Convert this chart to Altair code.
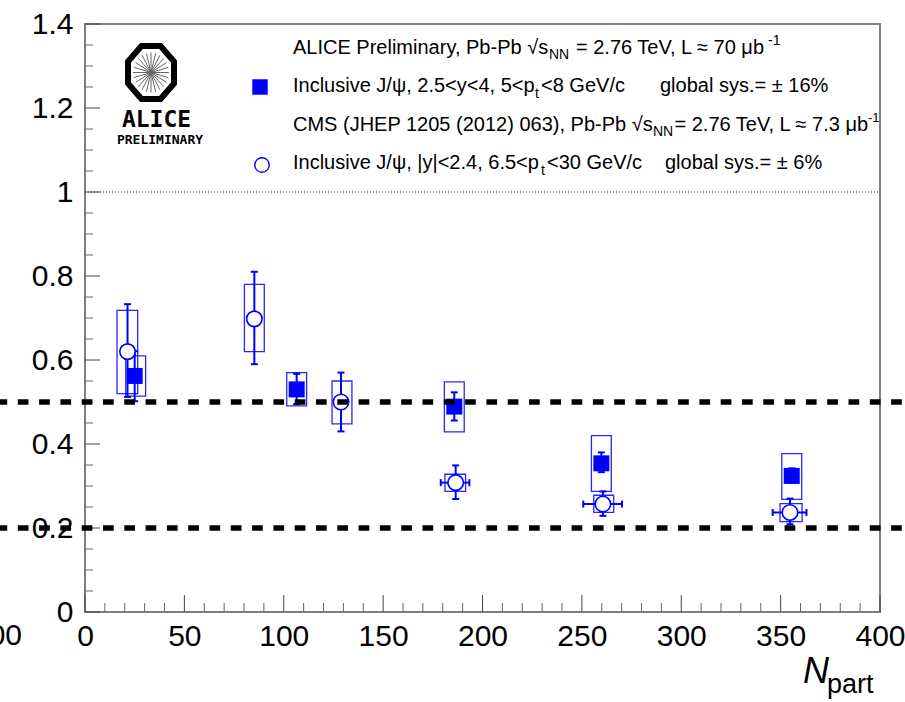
import math
import altair as alt
import pandas as pd

FONT = "Liberation Sans"
BLUE = "#0000ff"
L, T = 85, 24          # plot origin on the page
W, H = 795, 588        # plot area

# ---------------- data ----------------
alice_npart = [25.0, 106.5, 185.8, 259.8, 355.6]
alice_val = [0.562, 0.530, 0.489, 0.354, 0.324]
alice_stat_lo = [0.502, 0.495, 0.456, 0.333, 0.308]
alice_stat_hi = [0.621, 0.567, 0.523, 0.380, 0.342]
alice_sys_lo = [0.514, 0.491, 0.429, 0.287, 0.268]
alice_sys_hi = [0.610, 0.570, 0.548, 0.420, 0.377]
alice_box_lo = [20.5, 101.5, 180.8, 254.8, 350.6]
alice_box_hi = [30.5, 111.5, 190.8, 264.8, 360.6]

cms_npart = [21.4, 85.2, 128.8, 186.5, 260.6, 354.7]
cms_val = [0.620, 0.698, 0.500, 0.308, 0.257, 0.237]
cms_stat_lo = [0.512, 0.590, 0.430, 0.269, 0.229, 0.209]
cms_stat_hi = [0.733, 0.810, 0.570, 0.349, 0.287, 0.270]
cms_sys_lo = [0.520, 0.620, 0.448, 0.287, 0.237, 0.215]
cms_sys_hi = [0.718, 0.780, 0.550, 0.328, 0.278, 0.258]
cms_box_lo = [16.1, 80.2, 124.3, 181.1, 256.0, 349.7]
cms_box_hi = [26.5, 90.2, 134.3, 191.5, 266.0, 360.8]
cms_xerr_lo = [None, None, None, 179.0, 250.7, 346.0]
cms_xerr_hi = [None, None, None, 193.4, 270.2, 363.0]

ref_dashed = [0.5, 0.2]
ref_unity = [1.0]

x_major = [0, 50, 100, 150, 200, 250, 300, 350, 400]
x_minor = [10, 20, 30, 40, 60, 70, 80, 90, 110, 120, 130, 140, 160, 170, 180, 190,
           210, 220, 230, 240, 260, 270, 280, 290, 310, 320, 330, 340, 360, 370, 380, 390]
y_major = [0, 0.2, 0.4, 0.6, 0.8, 1.0, 1.2, 1.4]
y_minor = [0.05, 0.1, 0.15, 0.25, 0.3, 0.35, 0.45, 0.5, 0.55, 0.65, 0.7, 0.75,
           0.85, 0.9, 0.95, 1.05, 1.1, 1.15, 1.25, 1.3, 1.35]

alice = pd.DataFrame({"x": alice_npart, "y": alice_val, "slo": alice_stat_lo, "shi": alice_stat_hi,
                      "ylo": alice_sys_lo, "yhi": alice_sys_hi, "bx0": alice_box_lo, "bx1": alice_box_hi})
cms = pd.DataFrame({"x": cms_npart, "y": cms_val, "slo": cms_stat_lo, "shi": cms_stat_hi,
                    "ylo": cms_sys_lo, "yhi": cms_sys_hi, "bx0": cms_box_lo, "bx1": cms_box_hi,
                    "xlo": cms_xerr_lo, "xhi": cms_xerr_hi})
cms_x = cms.dropna(subset=["xlo"])

# ---------------- scales / axes ----------------
XS = alt.Scale(domain=[0, 400], nice=False, zero=False)
YS = alt.Scale(domain=[0, 1.4], nice=False, zero=False)
XA = alt.Axis(values=x_major, title=None, ticks=False, tickSize=0, domain=False, grid=False,
              labelFontSize=30, labelFont=FONT, labelColor="black", labelPadding=9,
              labelFlush=False, labelOverlap=False, labelBound=False)
YA = alt.Axis(values=y_major, title=None, ticks=False, tickSize=0, domain=False, grid=False,
              format="~g", labelFontSize=30, labelFont=FONT, labelColor="black", labelPadding=12,
              labelFlush=False, labelOverlap=False, labelBound=False)


def X(f):
    return alt.X(f, type="quantitative", scale=XS, axis=XA)


def Y(f):
    return alt.Y(f, type="quantitative", scale=YS, axis=YA)


one = pd.DataFrame({"k": [0]})


def txt(s, px, py, size=20, align="left", font=FONT, color="black", **kw):
    return alt.Chart(one).mark_text(text=s, align=align, baseline="alphabetic", font=font,
                                    fontSize=size, color=color, **kw).encode(
        x=alt.value(px - L), y=alt.value(py - T))


HCAP = "M-1,0L1,0"
VCAP = "M0,-1L0,1"

layers = []

# axis ticks (inside, ROOT style)
layers.append(alt.Chart(pd.DataFrame({"y": y_major})).mark_rule(color="#444", strokeWidth=1).encode(
    y=Y("y"), x=alt.value(0), x2=alt.value(15)))
layers.append(alt.Chart(pd.DataFrame({"y": y_minor})).mark_rule(color="#666", strokeWidth=1).encode(
    y=Y("y"), x=alt.value(0), x2=alt.value(8)))
layers.append(alt.Chart(pd.DataFrame({"x": x_major})).mark_rule(color="#444", strokeWidth=1).encode(
    x=X("x"), y=alt.value(H), y2=alt.value(H - 17)))
layers.append(alt.Chart(pd.DataFrame({"x": x_minor})).mark_rule(color="#666", strokeWidth=1).encode(
    x=X("x"), y=alt.value(H), y2=alt.value(H - 9)))

# reference line at unity
layers.append(alt.Chart(pd.DataFrame({"y": ref_unity})).mark_rule(
    color="#333", strokeWidth=1, strokeDash=[1, 2]).encode(y=Y("y"), x=alt.value(0), x2=alt.value(W)))

# systematic boxes
for df in (cms, alice):
    layers.append(alt.Chart(df).mark_rect(fillOpacity=0, stroke=BLUE, strokeWidth=1.3, strokeOpacity=0.85).encode(
        x=X("bx0"), x2="bx1", y=Y("ylo"), y2="yhi"))

# stat error bars
for df in (cms, alice):
    layers.append(alt.Chart(df).mark_rule(color=BLUE, strokeWidth=2).encode(x=X("x"), y=Y("slo"), y2="shi"))
    layers.append(alt.Chart(df).mark_point(shape=HCAP, size=49, filled=False, stroke=BLUE, strokeWidth=2,
                                           opacity=1).encode(x=X("x"), y=Y("slo")))
    layers.append(alt.Chart(df).mark_point(shape=HCAP, size=49, filled=False, stroke=BLUE, strokeWidth=2,
                                           opacity=1).encode(x=X("x"), y=Y("shi")))
layers.append(alt.Chart(cms_x).mark_rule(color=BLUE, strokeWidth=2).encode(x=X("xlo"), x2="xhi", y=Y("y")))
layers.append(alt.Chart(cms_x).mark_point(shape=VCAP, size=49, filled=False, stroke=BLUE, strokeWidth=2,
                                          opacity=1).encode(x=X("xlo"), y=Y("y")))
layers.append(alt.Chart(cms_x).mark_point(shape=VCAP, size=49, filled=False, stroke=BLUE, strokeWidth=2,
                                          opacity=1).encode(x=X("xhi"), y=Y("y")))

# markers
layers.append(alt.Chart(cms).mark_point(shape="circle", size=240, filled=True, fill="white", stroke=BLUE,
                                        strokeWidth=1.6, opacity=1).encode(x=X("x"), y=Y("y")))
layers.append(alt.Chart(alice).mark_square(size=256, color=BLUE, opacity=1).encode(x=X("x"), y=Y("y")))

# dashed black lines (span the whole page width)
layers.append(alt.Chart(pd.DataFrame({"y": ref_dashed})).mark_rule(
    color="black", strokeWidth=5.5, strokeDash=[10.7, 10.6]).encode(
    y=Y("y"), x=alt.value(-88.5), x2=alt.value(W + 25)))

# legend
layers.append(alt.Chart(one).mark_square(size=240, color=BLUE, opacity=1).encode(
    x=alt.value(260 - L), y=alt.value(87 - T)))
layers.append(alt.Chart(one).mark_point(shape="circle", size=210, filled=True, fill="white", stroke=BLUE,
                                        strokeWidth=1.4, opacity=1).encode(
    x=alt.value(262 - L), y=alt.value(165 - T)))

FS = 20
SUB = 14
b1, b2, b3, b4 = 53.5, 92, 130.5, 169
layers += [
    txt("ALICE Preliminary, Pb-Pb \u221as", 293, b1, FS),
    txt("NN", 549, b1 + 5, SUB),
    txt("= 2.76 TeV, L \u2248 70 \u03bcb", 576, b1, FS),
    txt("-1", 768, b1 - 9, SUB),
    txt("Inclusive J/\u03c8, 2.5<y<4, 5<p", 293, b2, FS),
    txt("t", 535, b2 + 6, SUB),
    txt("<8 GeV/c", 541, b2, FS),
    txt("global sys.= \u00b1 16%", 660, b2, FS),
    txt("CMS (JHEP 1205 (2012) 063), Pb-Pb \u221as", 293, b3, FS),
    txt("NN", 653, b3 + 5, SUB),
    txt("= 2.76 TeV, L \u2248 7.3 \u03bcb", 674.5, b3, FS),
    txt("-1", 868, b3 - 9, 13),
    txt("Inclusive J/\u03c8, |y|<2.4, 6.5<p", 293, b4, FS),
    txt("t", 541, b4 + 6, SUB),
    txt("<30 GeV/c", 547, b4, FS),
    txt("global sys.= \u00b1 6%", 665, b4, FS),
]

# ALICE logo
oct_pts = []
for k in range(8):
    a = math.radians(22.5 + 45 * k)
    oct_pts.append((math.cos(a), 1.15 * math.sin(a)))
oct_path = "M" + "L".join(f"{px:.3f},{py:.3f}" for px, py in oct_pts) + "Z"
rays = []
for k in range(12):
    a = math.radians(15 * k)
    c, s = math.cos(a), math.sin(a)
    rays.append(f"M{-0.72 * c:.3f},{-0.8 * s:.3f}L{0.72 * c:.3f},{0.8 * s:.3f}")
ray_path = "".join(rays)
LOGO_SIZE = 2480
layers.append(alt.Chart(one).mark_point(shape=ray_path, size=LOGO_SIZE, filled=False, stroke="#666",
                                        strokeWidth=1, opacity=1).encode(
    x=alt.value(151 - L), y=alt.value(72.5 - T)))
layers.append(alt.Chart(one).mark_point(shape=oct_path, size=LOGO_SIZE, filled=False, stroke="black",
                                        strokeWidth=6, opacity=1).encode(
    x=alt.value(151 - L), y=alt.value(72.5 - T)))
layers.append(txt("ALICE", 156.5, 127, 23, align="center", font="DejaVu Sans Mono", fontWeight="bold"))
layers.append(txt("PRELIMINARY", 160, 143.5, 13, align="center", font="DejaVu Sans Mono", fontWeight="bold"))

# axis title and stray label
layers.append(txt("N", 803, 683, 36, fontStyle="italic"))
layers.append(txt("part", 827, 693, 27))
layers.append(txt("00", 22, 645, 30, align="right"))

chart = alt.layer(*layers).properties(
    width=W, height=H,
    autosize=alt.AutoSizeParams(type="none"),
    padding={"left": L, "top": T, "right": 905 - L - W, "bottom": 702 - T - H},
    background="white",
).configure_view(stroke="#808080", strokeWidth=2)

chart.save("out.html", embed_options={"renderer": "svg", "actions": False})
